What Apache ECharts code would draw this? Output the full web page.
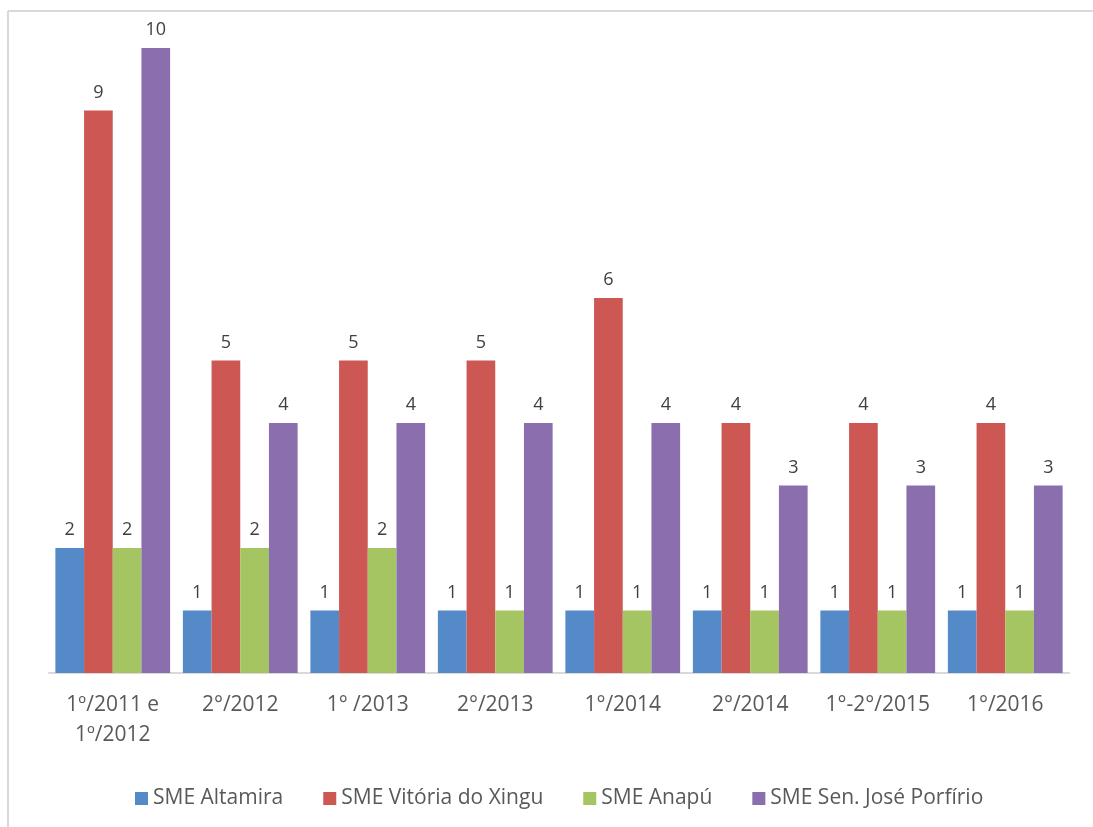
<!DOCTYPE html>
<html>
<head>
<meta charset="utf-8">
<script src="https://cdn.jsdelivr.net/npm/echarts@6/dist/echarts.min.js"></script>
<style>
  html, body { margin: 0; padding: 0; background: #fff; }
  #chart { width: 1093px; height: 827px; }
</style>
</head>
<body>
<div id="chart"></div>
<script>
// Periods (x-axis categories)
const categories = ['1º/2011 e\n1º/2012', '2°/2012', '1° /2013', '2°/2013', '1°/2014', '2°/2014', '1°-2°/2015', '1°/2016'];

// Counts per municipal education office
const altamira = [2, 1, 1, 1, 1, 1, 1, 1];
const vitoriaXingu = [9, 5, 5, 5, 6, 4, 4, 4];
const anapu = [2, 2, 2, 1, 1, 1, 1, 1];
const senJosePorfirio = [10, 4, 4, 4, 4, 3, 3, 3];

const seriesNames = ['SME Altamira', 'SME Vitória do Xingu', 'SME Anapú', 'SME Sen. José Porfírio'];
const seriesData = [altamira, vitoriaXingu, anapu, senJosePorfirio];
const colors = ['#558AC9', '#CD5753', '#A5C462', '#8B6EAD'];

const FONT = '"Open Sans", "Noto Sans", sans-serif';

const chart = echarts.init(document.getElementById('chart'), null, { renderer: 'canvas' });

chart.setOption({
  animation: false,
  backgroundColor: '#ffffff',
  color: colors,
  grid: { left: 49, right: 24, top: 48, bottom: 154, containLabel: false },
  graphic: [
    { type: 'line', shape: { x1: 8, y1: 11, x2: 1093, y2: 11 }, style: { stroke: '#D9D9D9', lineWidth: 2 } },
    { type: 'line', shape: { x1: 8, y1: 11, x2: 8, y2: 827 }, style: { stroke: '#D9D9D9', lineWidth: 2 } }
  ],
  legend: {
    left: 130,
    top: 783,
    itemWidth: 13,
    itemHeight: 13,
    itemGap: 40,
    icon: 'rect',
    textStyle: { fontFamily: FONT, fontSize: 21, color: '#595959' },
    data: seriesNames
  },
  xAxis: {
    type: 'category',
    data: categories,
    axisLine: { show: true, lineStyle: { color: '#D9D9D9', width: 2 } },
    axisTick: { show: false },
    axisLabel: {
      interval: 0,
      margin: 17,
      fontFamily: FONT,
      fontSize: 21,
      color: '#595959',
      lineHeight: 30
    }
  },
  yAxis: {
    type: 'value',
    min: 0,
    max: 10,
    interval: 2,
    show: false,
    splitLine: { show: false }
  },
  series: seriesNames.map((name, i) => ({
    name: name,
    type: 'bar',
    data: seriesData[i],
    barGap: '0%',
    barCategoryGap: '10%',
    itemStyle: { color: colors[i] },
    label: {
      show: true,
      position: 'top',
      distance: 9,
      fontFamily: FONT,
      fontSize: 18,
      color: '#404040'
    }
  }))
});
</script>
</body>
</html>
